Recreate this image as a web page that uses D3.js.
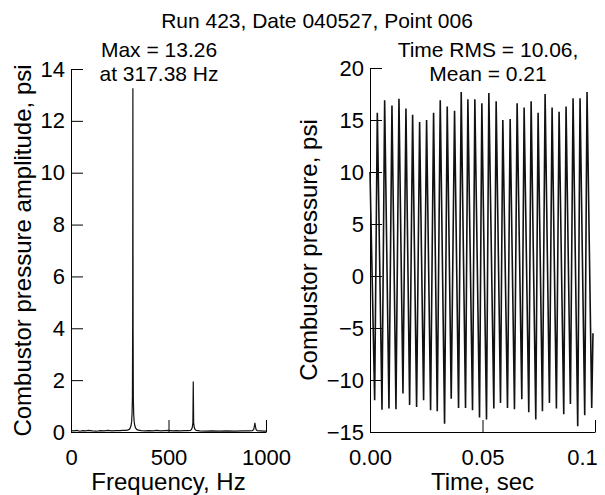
<!DOCTYPE html>
<html>
<head>
<meta charset="utf-8">
<script src="https://cdn.jsdelivr.net/npm/d3@7"></script>
<style>
	body { margin: 0; background: #fff; }
	svg text { font-family: "Liberation Sans", Arial, sans-serif; fill: #000; }
	.axis path, .axis line { stroke: #000; stroke-width: 1px; }
	.trace { fill: none; stroke: #111; }
</style>
</head>
<body>
<div id="chart"></div>
<script>

// spectrum
var freqHz = [0, 15, 30, 45, 60, 75, 90, 110, 130, 150, 170, 190, 210, 230, 250,
	265, 280, 290, 298, 304, 308, 311, 313, 315, 316.3, 317.38, 318.4, 319.6, 321.5, 324,
	327, 331, 337, 345, 360, 380, 400, 420, 440, 460, 480, 500, 520, 540, 560, 580, 600,
	612, 618, 622, 625, 627, 629, 632, 636, 642, 660, 690, 720, 760, 800, 840, 880, 910,
	930, 937, 941, 943, 945, 949, 955, 970, 990, 1000];
var amplitude = [0.05, 0.04, 0.06, 0.03, 0.05, 0.04, 0.06, 0.04, 0.03, 0.05, 0.04, 0.06, 0.04, 0.05, 0.05,
	0.06, 0.06, 0.07, 0.1, 0.16, 0.25, 0.4, 0.7, 1.35, 4.5, 13.26, 4.0, 1.35, 0.7, 0.4,
	0.25, 0.16, 0.1, 0.07, 0.05, 0.04, 0.05, 0.04, 0.06, 0.04, 0.05, 0.06, 0.04, 0.05, 0.04, 0.05, 0.05,
	0.06, 0.1, 0.18, 0.35, 1.95, 0.35, 0.18, 0.1, 0.06, 0.04, 0.03, 0.04, 0.03, 0.04, 0.03, 0.04, 0.04,
	0.05, 0.1, 0.25, 0.35, 0.25, 0.1, 0.05, 0.04, 0.03, 0.03];

// time trace (troughs and crests)
var timeMs = [0, 2.07, 3.25, 5.33, 6.51, 8.43, 9.76, 11.54, 12.87, 14.65, 15.98,
	17.61, 18.94, 20.71, 22.05, 23.82, 25.15, 26.93, 28.26, 29.89, 31.22,
	33.14, 34.32, 36.10, 37.58, 39.36, 40.54, 42.46, 43.50, 45.57, 46.60,
	48.68, 49.71, 51.78, 52.82, 55.04, 56.07, 58.00, 59.03, 61.11, 62.29,
	64.21, 65.39, 67.47, 68.50, 70.57, 71.61, 73.68, 74.71, 76.64, 77.82,
	79.75, 80.93, 82.85, 84.04, 86.11, 87.14, 89.07, 90.25, 92.32, 93.35,
	95.43, 96.46, 98.54, 99.1];
var pressure = [10, -11.95, 15.7, -12.85, 16.9, -12.75, 16.4, -12.8, 17.05, -11.3, 16.1,
	-12.4, 15.5, -12.6, 14.8, -11.95, 15.0, -12.9, 15.7, -13.0, 16.9,
	-14.2, 16.3, -11.8, 15.9, -12.7, 17.7, -12.7, 17.0, -12.9, 17.0,
	-13.6, 16.6, -13.8, 17.6, -12.75, 16.8, -12.2, 15.0, -12.7, 15.1,
	-12.8, 16.6, -11.85, 16.2, -13.1, 16.8, -13.8, 15.7, -13.0, 17.5,
	-12.2, 16.2, -12.75, 15.8, -13.3, 16.3, -12.3, 17.1, -14.45, 17.1,
	-13.4, 17.7, -12.7, -5.5];

var freqTicks = [0, 500, 1000];
var freqTickLabels = ["0", "500", "1000"];
var ampTicks = [0, 2, 4, 6, 8, 10, 12, 14];
var timeTicks = [0, 0.05, 0.1];
var timeTickLabels = ["0.00", "0.05", "0.1"];
var pressTicks = [-15, -10, -5, 0, 5, 10, 15, 20];

var width = 605, height = 495;

var svg = d3.select("#chart").append("svg")
	.attr("width", width)
	.attr("height", height);

svg.append("text")
	.attr("x", 317).attr("y", 28)
	.attr("text-anchor", "middle")
	.style("font-size", "21px")
	.text("Run 423, Date 040527, Point 006");

function drawPanel(opts) {
	var x = d3.scaleLinear().domain(opts.xDomain).range(opts.xRange);
	var y = d3.scaleLinear().domain(opts.yDomain).range(opts.yRange);

	var xAxis = d3.axisBottom(x)
		.tickValues(opts.xTicks)
		.tickFormat(function(d, i) { return opts.xLabels[i]; })
		.tickSizeInner(-12).tickSizeOuter(0).tickPadding(17);
	var yAxis = d3.axisLeft(y)
		.tickValues(opts.yTicks)
		.tickFormat(function(d) { return d < 0 ? "\u2212" + (-d) : "" + d; })
		.tickSizeInner(-12).tickSizeOuter(0).tickPadding(6);

	var gx = svg.append("g").attr("class", "axis")
		.attr("transform", "translate(0," + opts.yRange[0] + ")")
		.call(xAxis);
	var gy = svg.append("g").attr("class", "axis")
		.attr("transform", "translate(" + opts.xRange[0] + ",0)")
		.call(yAxis);
	gx.attr("font-family", null).attr("font-size", null);
	gy.attr("font-family", null).attr("font-size", null);
	gx.selectAll("text").style("font-size", "22px");
	gy.selectAll("text").style("font-size", "22px");

	// last time label sits a bit left of its tick so it stays on the page
	if (opts.lastLabelShift) {
		gx.selectAll(".tick").filter(function(d, i) { return i == opts.xTicks.length - 1; })
			.select("text").attr("dx", opts.lastLabelShift);
	}

	var line = d3.line()
		.x(function(d) { return x(d[0]); })
		.y(function(d) { return y(d[1]); });

	svg.append("path")
		.datum(opts.data)
		.attr("class", "trace")
		.style("stroke-width", opts.lineWidth + "px")
		.attr("d", line);

	svg.append("text")
		.attr("x", (opts.xRange[0] + opts.xRange[1]) / 2)
		.attr("y", 490)
		.attr("text-anchor", "middle")
		.style("font-size", "24px")
		.text(opts.xTitle);

	svg.append("text")
		.attr("transform", "translate(" + opts.yTitleX + "," + (opts.yRange[0] + opts.yRange[1]) / 2 + ") rotate(-90)")
		.attr("text-anchor", "middle")
		.style("font-size", "24px")
		.text(opts.yTitle);

	var note = svg.append("text")
		.attr("text-anchor", "middle")
		.style("font-size", "21px");
	note.append("tspan").attr("x", opts.noteX).attr("y", 57).text(opts.note[0]);
	note.append("tspan").attr("x", opts.noteX).attr("y", 81).text(opts.note[1]);
}

drawPanel({
	xDomain: [0, 1000], xRange: [71, 266],
	yDomain: [0, 14], yRange: [432, 69],
	xTicks: freqTicks, xLabels: freqTickLabels,
	yTicks: ampTicks,
	data: freqHz.map(function(f, i) { return [f, amplitude[i]]; }),
	lineWidth: 1.2,
	xTitle: "Frequency, Hz",
	yTitle: "Combustor pressure amplitude, psi",
	yTitleX: 31,
	noteX: 159,
	note: ["Max = 13.26", "at 317.38 Hz"]
});

drawPanel({
	xDomain: [0, 0.1], xRange: [370, 595],
	yDomain: [-15, 20], yRange: [432, 68],
	xTicks: timeTicks, xLabels: timeTickLabels,
	yTicks: pressTicks,
	lastLabelShift: -13,
	data: timeMs.map(function(t, i) { return [t / 1000, pressure[i]]; }),
	lineWidth: 1.6,
	xTitle: "Time, sec",
	yTitle: "Combustor pressure, psi",
	yTitleX: 317,
	noteX: 488,
	note: ["Time RMS = 10.06,", "Mean = 0.21"]
});

</script>
</body>
</html>
